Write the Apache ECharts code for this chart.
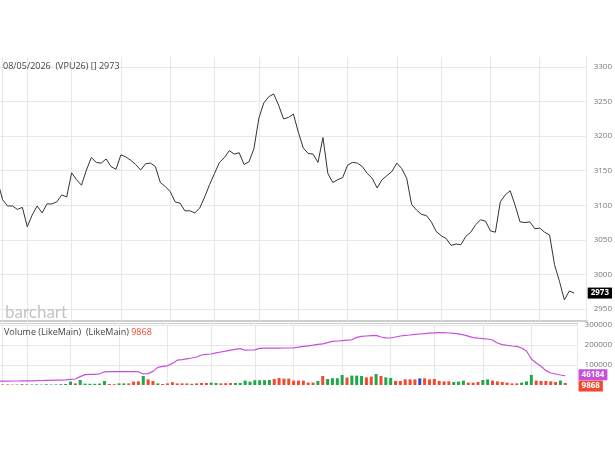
<!DOCTYPE html>
<html>
<head>
<meta charset="utf-8">
<script src="https://cdn.jsdelivr.net/npm/echarts@6/dist/echarts.min.js"></script>
<style>
  html, body { margin: 0; padding: 0; background: #fff; }
  #chart { width: 615px; height: 461px; }
</style>
</head>
<body>
<div id="chart"></div>
<script>
// daily closes, oldest first (first one sits just off the left edge)
const closes = [
  3134, 3108, 3099, 3099, 3094, 3097, 3069, 3086, 3099, 3089,
  3102, 3102, 3105, 3115, 3112, 3147, 3137, 3129, 3151, 3169,
  3162, 3161, 3167, 3156, 3152, 3173, 3170, 3165, 3159, 3151,
  3160, 3161, 3156, 3133, 3127, 3120, 3105, 3103, 3092, 3092,
  3089, 3096, 3112, 3130, 3146, 3162, 3169, 3179, 3174, 3176,
  3159, 3163, 3182, 3226, 3248, 3257, 3261, 3245, 3225, 3227,
  3232, 3206, 3183, 3175, 3174, 3162, 3198, 3146, 3133, 3137,
  3140, 3158, 3162, 3161, 3156, 3146, 3139, 3125, 3137, 3143,
  3149, 3161, 3153, 3139, 3101, 3093, 3087, 3085, 3076, 3062,
  3056, 3052, 3042, 3044, 3043, 3055, 3061, 3072, 3079, 3077,
  3063, 3061, 3105, 3115, 3121, 3100, 3076, 3075, 3076, 3066,
  3067, 3061, 3057, 3014, 2990, 2963, 2976, 2973
]

const volumes = [
  3000, 2500, 3000, 2000, 2500, 4000, 3000, 2500, 3000, 2000,
  3500, 2500, 3000, 4000, 5000, 17000, 8000, 25000, 7000, 6000,
  6000, 7000, 20000, 5000, 4000, 8000, 8000, 8000, 17000, 18000,
  45000, 28000, 20000, 8000, 5000, 8000, 14000, 8000, 8000, 8000,
  6000, 8000, 10000, 10000, 12000, 10000, 8000, 9000, 10000, 10000,
  10000, 22000, 17000, 24000, 24000, 24000, 25000, 30000, 35000, 32000,
  32000, 22000, 22000, 22000, 12000, 12000, 20000, 45000, 30000, 34000,
  34000, 50000, 37000, 47000, 47000, 45000, 38000, 42000, 55000, 45000,
  38000, 35000, 20000, 20000, 28000, 28000, 28000, 33000, 33000, 28000,
  30000, 20000, 18000, 18000, 15000, 17000, 22000, 12000, 12000, 15000,
  25000, 28000, 22000, 18000, 15000, 12000, 8000, 8000, 12000, 18000,
  50000, 22000, 20000, 20000, 18000, 15000, 22000, 9868
]

// 1 = up day, -1 = down day, 0 = unchanged
const volDir = [
  -1, -1, -1, -1, 1, -1, 1, 1, 1, 1,
  1, 1, 1, 1, 1, 1, -1, 1, 1, 1,
  1, 1, 1, -1, -1, 1, 1, -1, -1, -1,
  1, -1, -1, 1, -1, -1, -1, -1, -1, -1,
  1, -1, -1, -1, 1, 1, -1, -1, -1, 1,
  1, 1, 1, 1, 1, 1, 1, -1, -1, -1,
  -1, -1, -1, -1, -1, -1, 1, -1, 1, 1,
  1, 1, -1, 1, 1, 1, -1, -1, 1, -1,
  1, 1, -1, -1, -1, -1, -1, 0, -1, -1,
  -1, -1, -1, -1, 1, 1, 1, -1, -1, -1,
  1, 1, -1, -1, -1, -1, -1, -1, 1, 1,
  1, -1, -1, -1, -1, -1, 1, -1
]

// second LikeMain study (purple line)
const volLine = [
  19000, 19000, 19500, 20000, 20000, 20500, 21000, 21000, 22000, 22500,
  23000, 23000, 24000, 24500, 26000, 28000, 30000, 42000, 52000, 53000,
  53000, 56000, 66000, 67000, 67000, 67000, 67500, 67000, 67500, 66000,
  55000, 57000, 68000, 88000, 93000, 96000, 108000, 124000, 127000, 131000,
  135000, 140000, 150000, 153000, 155000, 161000, 165000, 169000, 174000, 178000,
  182000, 174000, 175000, 176000, 183000, 184000, 184000, 184000, 184000, 185000,
  185000, 186000, 189000, 193000, 196000, 199000, 203000, 206000, 212000, 218000,
  220000, 222000, 224000, 226000, 238000, 243000, 245000, 247000, 248000, 240000,
  236000, 235000, 240000, 245000, 248000, 250000, 253000, 255000, 257000, 259000,
  261000, 262000, 262000, 260000, 258000, 256000, 251000, 244000, 237000, 234000,
  232000, 230000, 225000, 210000, 202000, 198000, 195000, 193000, 185000, 170000,
  130000, 110000, 94000, 72000, 60000, 55000, 50000, 46184
]

// bar indexes where the vertical date grid lines fall
const gridDays = [1, 6, 15, 25, 35, 44, 53, 61, 71, 81, 90, 100, 110]

const lastClose = closes[closes.length - 1]
const lastVol = volumes[volumes.length - 1]
const lastLine = volLine[volLine.length - 1]

const GRID = '#e8e8e8'
const UP = '#1fa84a'
const DOWN = '#f2492f'
const FLAT = '#2a52c6'
const PURPLE = '#c650dc'

const chart = echarts.init(document.getElementById('chart'))

// vertical date lines, drawn as marker lines so they can fall on any bar
const dayLines = () => gridDays.map(d => ({
  xAxis: d,
  label: { show: false },
  lineStyle: { color: GRID, type: 'solid', width: 1 }
}))

// value tag at the right edge of the panel
const tagItem = (value, bg, dy) => ({
  yAxis: value,
  lineStyle: { color: 'rgba(0,0,0,0)', width: 0 },
  label: {
    show: true, position: 'end', distance: 1, formatter: String(value),
    offset: [0, dy || 0],
    backgroundColor: bg, color: '#fff', fontSize: 8, fontWeight: 'bold',
    padding: [2, 3, 1, 3]
  }
})

const marks = items => ({
  silent: true, symbol: 'none', animation: false, z: 1,
  data: items
})

const plain = v => String(v)

const option = {
  animation: false,
  textStyle: { fontFamily: 'Open Sans' },
  title: [
    {
      text: '08/05/2026  (VPU26) [] 2973', left: -2, top: 57,
      textStyle: { fontSize: 9, fontWeight: 'normal', color: '#444' }
    },
    {
      text: 'barchart', left: 0, top: 299,
      textStyle: { fontSize: 17, fontWeight: 'normal', color: '#c4c4c4', fontFamily: 'Lato' }
    },
    {
      text: 'Volume (LikeMain)  (LikeMain) {r|' + lastVol + '}', left: -1, top: 323,
      textStyle: {
        fontSize: 9, fontWeight: 'normal', color: '#444',
        rich: { r: { fontSize: 9, color: DOWN } }
      }
    }
  ],
  grid: [
    { left: 0, top: 57, width: 587, height: 264 },
    { left: 0, top: 323, width: 587, height: 62 }
  ],
  xAxis: [
    {
      type: 'value', gridIndex: 0, min: 0.4635, max: 119.53,
      axisLabel: { show: false }, axisTick: { show: false }, splitLine: { show: false },
      axisLine: { show: true, onZero: false, lineStyle: { color: '#cdcdcd', width: 2 } }
    },
    {
      type: 'value', gridIndex: 1, position: 'top', min: 0.4635, max: 119.53,
      axisLabel: { show: false }, axisTick: { show: false }, splitLine: { show: false },
      axisLine: { show: true, onZero: false, lineStyle: { color: '#cdcdcd', width: 1 } }
    }
  ],
  yAxis: [
    {
      type: 'value', gridIndex: 0, position: 'right', min: 2932.6, max: 3314.5, splitNumber: 7,
      axisLine: { show: true, lineStyle: { color: GRID } },
      axisTick: { show: false },
      axisLabel: { color: '#777', fontSize: 8, margin: 7, formatter: plain, showMinLabel: false, showMaxLabel: false },
      splitLine: { lineStyle: { color: GRID }, showMinLine: false, showMaxLine: false }
    },
    {
      type: 'value', gridIndex: 1, position: 'right', min: 0, max: 310000, interval: 100000,
      axisLine: { show: true, lineStyle: { color: GRID } },
      axisTick: { show: false },
      axisLabel: { color: '#777', fontSize: 8, margin: 7, formatter: plain, showMinLabel: false, showMaxLabel: false },
      splitLine: { lineStyle: { color: GRID }, showMinLine: false, showMaxLine: false }
    }
  ],
  series: [
    {
      name: 'VPU26', type: 'line', xAxisIndex: 0, yAxisIndex: 0, z: 3,
      symbol: 'none', silent: true, clip: false,
      lineStyle: { color: '#333', width: 1 },
      data: closes.map((v, i) => [i, v]),
      markLine: marks(dayLines().concat([tagItem(lastClose, '#000')]))
    },
    {
      name: 'Volume', type: 'bar', xAxisIndex: 1, yAxisIndex: 1, z: 3,
      barWidth: 3, silent: true, clip: false,
      itemStyle: {
        color: p => volDir[p.dataIndex] > 0 ? UP : (volDir[p.dataIndex] < 0 ? DOWN : FLAT)
      },
      data: volumes.map((v, i) => [i, v]),
      markLine: marks(dayLines().concat([tagItem(lastVol, DOWN, 3)]))
    },
    {
      name: 'LikeMain', type: 'line', xAxisIndex: 1, yAxisIndex: 1, z: 4,
      symbol: 'none', silent: true, clip: false,
      lineStyle: { color: PURPLE, width: 1.2 },
      data: volLine.map((v, i) => [i, v]),
      markLine: marks([tagItem(lastLine, PURPLE, -1)])
    }
  ]
}

chart.setOption(option)
</script>
</body>
</html>
